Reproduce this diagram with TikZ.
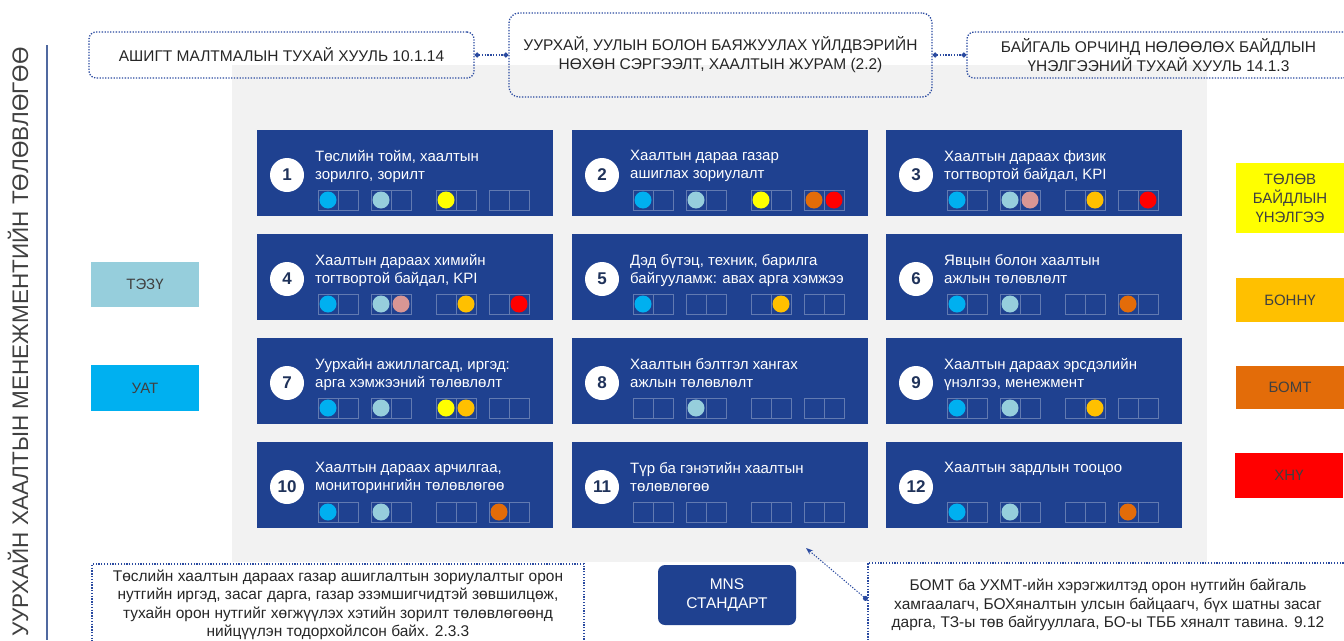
\documentclass[tikz,border=0pt]{standalone}
\usepackage{fontspec}
\setmainfont{Liberation Sans}
\usetikzlibrary{arrows.meta}

\definecolor{cardblue}{RGB}{31,65,144}
\definecolor{numblue}{RGB}{31,50,90}
\definecolor{dotblue}{RGB}{42,74,160}
\definecolor{bggray}{RGB}{242,242,242}
\definecolor{txtgray}{RGB}{64,64,64}
\definecolor{linegray}{RGB}{80,105,160}
\definecolor{dcyan}{RGB}{0,176,240}
\definecolor{dlblue}{RGB}{150,206,220}
\definecolor{dyellow}{RGB}{255,255,0}
\definecolor{damber}{RGB}{255,192,0}
\definecolor{dorange}{RGB}{227,108,9}
\definecolor{dred}{RGB}{255,0,0}
\definecolor{dpink}{RGB}{217,150,148}

\newcommand\cardfont{\fontsize{15}{18}\selectfont}
\newcommand\lawfont{\fontsize{15.5}{19}\selectfont}

\begin{document}
\begin{tikzpicture}[x=1pt, y=-1pt,
    card/.style={rectangle, fill=cardblue, minimum width=296pt, minimum height=86pt,
        anchor=north west, inner sep=0pt},
    numdot/.style={circle, fill=white, minimum size=34pt, inner sep=0pt,
        font=\fontsize{17}{17}\selectfont\bfseries, text=numblue},
    cardtxt/.style={anchor=north west, inner sep=0pt, align=left, text=white, font=\cardfont},
    slotline/.style={draw=white!30!cardblue, line width=0.8pt},
    lawbox/.style={draw=dotblue, dash pattern=on 1.3pt off 1.5pt, line width=1.3pt,
        rounded corners=7pt, align=center, font=\lawfont, text=black!85},
    notebox/.style={draw=dotblue, dash pattern=on 1.3pt off 1.5pt, line width=1.3pt,
        align=center, font=\fontsize{15.5}{18.5}\selectfont, text=black!85},
    keybox/.style={rectangle, minimum width=108pt, inner sep=0pt, align=center,
        font=\fontsize{15}{19}\selectfont, text=txtgray},
    dotline/.style={draw=dotblue, dash pattern=on 1.3pt off 1.5pt, line width=1.3pt}]

    \useasboundingbox (0,0) rectangle (1344,640);

    % background panel
    \fill[bggray] (232,65) rectangle (1207,562);

    % side title
    \node[rotate=90, text=txtgray, font=\fontsize{22.5}{22.5}\selectfont] (sidetitle) at (18,342)
        {УУРХАЙН ХААЛТЫН МЕНЕЖМЕНТИЙН ТӨЛӨВЛӨГӨӨ};
    \draw[linegray, line width=1.5pt] (47,45) -- (47,640);

    % laws on top
    \node[lawbox, minimum width=385pt, minimum height=46pt] (lawA) at (281.5,55)
        {АШИГТ МАЛТМАЛЫН ТУХАЙ ХУУЛЬ 10.1.14};
    \node[lawbox, minimum width=423pt, minimum height=84pt, rounded corners=10pt] (lawB) at (720.5,55)
        {УУРХАЙ, УУЛЫН БОЛОН БАЯЖУУЛАХ ҮЙЛДВЭРИЙН\\НӨХӨН СЭРГЭЭЛТ, ХААЛТЫН ЖУРАМ (2.2)};
    \node[lawbox, minimum width=383pt, minimum height=46pt] (lawC) at (1158.5,55)
        {БАЙГАЛЬ ОРЧИНД НӨЛӨӨЛӨХ БАЙДЛЫН\\ҮНЭЛГЭЭНИЙ ТУХАЙ ХУУЛЬ 14.1.3};
    \draw[dotline, {Circle[length=5pt]}-{Circle[length=5pt]}] (lawA.east) -- (lawB.west);
    \draw[dotline, {Circle[length=5pt]}-{Circle[length=5pt]}] (lawB.east) -- (lawC.west);

    % cards
    \foreach \n/\cx/\cy/\txt in {
        1/257/130/{Төслийн тойм, хаалтын\\зорилго, зорилт},
        2/572/130/{Хаалтын дараа газар\\ашиглах зориулалт},
        3/886/130/{Хаалтын дараах физик\\тогтвортой байдал, KPI},
        4/257/234/{Хаалтын дараах химийн\\тогтвортой байдал, KPI},
        5/572/234/{Дэд бүтэц, техник, барилга\\байгууламж: авах арга хэмжээ},
        6/886/234/{Явцын болон хаалтын\\ажлын төлөвлөлт},
        7/257/338/{Уурхайн ажиллагсад, иргэд:\\арга хэмжээний төлөвлөлт},
        8/572/338/{Хаалтын бэлтгэл хангах\\ажлын төлөвлөлт},
        9/886/338/{Хаалтын дараах эрсдэлийн\\үнэлгээ, менежмент},
        10/257/442/{Хаалтын дараах арчилгаа,\\мониторингийн төлөвлөгөө},
        11/572/442/{Түр ба гэнэтийн хаалтын\\төлөвлөгөө},
        12/886/442/{Хаалтын зардлын тооцоо}}
    {
        \node[card] (card\n) at (\cx,\cy) {};
        \node[numdot] (num\n) at ([shift={(30,45)}]card\n.north west) {\n};
        \node[cardtxt] (txt\n) at ([shift={(58,20)}]card\n.north west) {\txt};
        \foreach \gx in {61,114,179,232}
            \draw[slotline] ([shift={(\gx,60)}]card\n.north west) rectangle ++(40,20)
                ([shift={(\gx+20,60)}]card\n.north west) -- ++(0,20);
    }

    % filled slots
    \foreach \n/\s/\col in {1/1/dcyan, 1/3/dlblue, 1/5/dyellow,
        2/1/dcyan, 2/3/dlblue, 2/5/dyellow, 2/7/dorange, 2/8/dred,
        3/1/dcyan, 3/3/dlblue, 3/4/dpink, 3/6/damber, 3/8/dred,
        4/1/dcyan, 4/3/dlblue, 4/4/dpink, 4/6/damber, 4/8/dred,
        5/1/dcyan, 5/6/damber,
        6/1/dcyan, 6/3/dlblue, 6/7/dorange,
        7/1/dcyan, 7/3/dlblue, 7/5/dyellow, 7/6/damber,
        8/3/dlblue,
        9/1/dcyan, 9/3/dlblue, 9/6/damber,
        10/1/dcyan, 10/3/dlblue, 10/7/dorange,
        12/1/dcyan, 12/3/dlblue, 12/7/dorange}
    {
        \pgfmathsetmacro\sx{{71,91,124,144,189,209,242,262}[\s-1]}
        \fill[\col] ([shift={(\sx,70)}]card\n.north west) circle (8.5);
    }

    % keys
    \node[keybox, fill=dlblue, minimum height=45pt] (keyTEZU) at (145,284.5) {ТЭЗҮ};
    \node[keybox, fill=dcyan, minimum height=46pt] (keyUAT) at (145,388) {УАТ};
    \node[keybox, fill=dyellow, minimum height=70pt] (keyTBU) at (1290,198)
        {ТӨЛӨВ\\БАЙДЛЫН\\ҮНЭЛГЭЭ};
    \node[keybox, fill=damber, minimum height=44pt] (keyBONNU) at (1290,300) {БОННҮ};
    \node[keybox, fill=dorange, minimum height=43pt] (keyBOMT) at (1290,387.5) {БОМТ};
    \node[keybox, fill=dred, minimum height=45pt] (keyXNU) at (1289,475.5) {ХНҮ};

    % bottom notes
    \node[notebox, minimum width=492pt, minimum height=82pt] (noteL) at (338,605)
        {Төслийн хаалтын дараах газар ашиглалтын зориулалтыг орон\\
         нутгийн иргэд, засаг дарга, газар эзэмшигчидтэй зөвшилцөж,\\
         тухайн орон нутгийг хөгжүүлэх хэтийн зорилт төлөвлөгөөнд\\
         нийцүүлэн тодорхойлсон байх. 2.3.3};
    \node[rectangle, fill=cardblue, rounded corners=7pt, minimum width=138pt, minimum height=60pt,
        align=center, text=white, font=\lawfont] (mns) at (727,595) {MNS\\СТАНДАРТ};
    \node[notebox, minimum width=480pt, minimum height=84pt] (noteR) at (1108,605)
        {БОМТ ба УХМТ-ийн хэрэгжилтэд орон нутгийн байгаль\\
         хамгаалагч, БОХяналтын улсын байцаагч, бүх шатны засаг\\
         дарга, ТЗ-ы төв байгууллага, БО-ы ТББ хяналт тавина. 9.12};
    \coordinate (panelpt) at (806,548);
    \draw[dotline, line width=1pt, {Circle[length=5pt]}-{Stealth[length=7pt]}]
        ([yshift=5pt]noteR.west) -- (panelpt);

\end{tikzpicture}
\end{document}
